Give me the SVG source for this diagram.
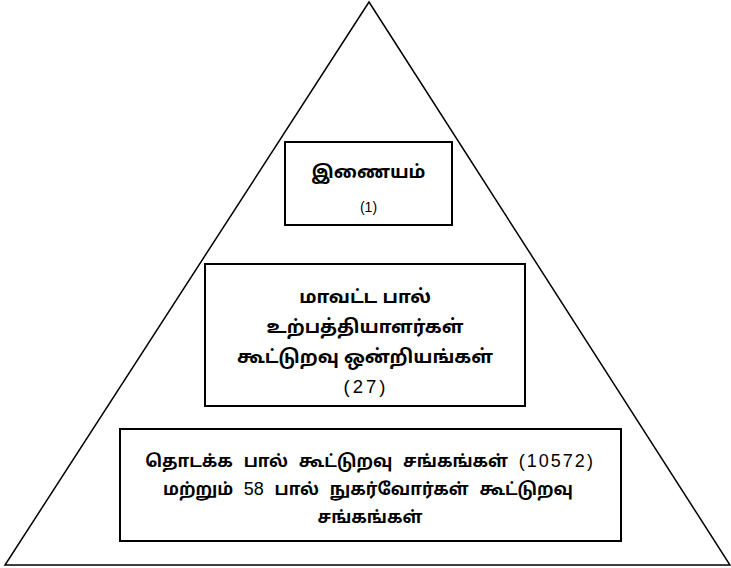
<svg xmlns="http://www.w3.org/2000/svg" width="731" height="568" viewBox="0 0 731 568">
<style>
.box{fill:#fff;stroke:#000;stroke-width:2}
.t{font-family:"Liberation Sans","Noto Sans Tamil","Noto Sans",sans-serif;font-weight:bold;text-anchor:middle;fill:#000}
.n{font-weight:normal}
</style>
<rect width="731" height="568" fill="#fff"/>
<g id="connectors">
<polygon points="369,2 5,565 730,565" fill="none" stroke="#000" stroke-width="1.5"/>
</g>
<g id="node1">
<rect class="box" x="285" y="142" width="167" height="83"/>
<text class="t" x="368.5" y="178" font-size="18">இணையம்</text>
<text class="t n" x="368.5" y="212" font-size="14">(1)</text>
</g>
<g id="node2" font-size="18.5">
<rect class="box" x="205" y="264" width="320" height="142"/>
<text class="t" x="365" y="303">மாவட்ட பால்</text>
<text class="t" x="365" y="333">உற்பத்தியாளர்கள்</text>
<text class="t" x="365" y="363">கூட்டுறவு ஒன்றியங்கள்</text>
<text class="t n" x="366" y="393" letter-spacing="3">(27)</text>
</g>
<g id="node3" font-size="17">
<rect class="box" x="120" y="429" width="501" height="112"/>
<text class="t" x="370" y="467" word-spacing="6">தொடக்க பால் கூட்டுறவு சங்கங்கள் <tspan class="n" font-size="18" letter-spacing="2">(10572)</tspan></text>
<text class="t" x="368" y="495" word-spacing="6">மற்றும் <tspan class="n" font-size="18">58</tspan> பால் நுகர்வோர்கள் கூட்டுறவு</text>
<text class="t" x="370" y="523">சங்கங்கள்</text>
</g>
</svg>
